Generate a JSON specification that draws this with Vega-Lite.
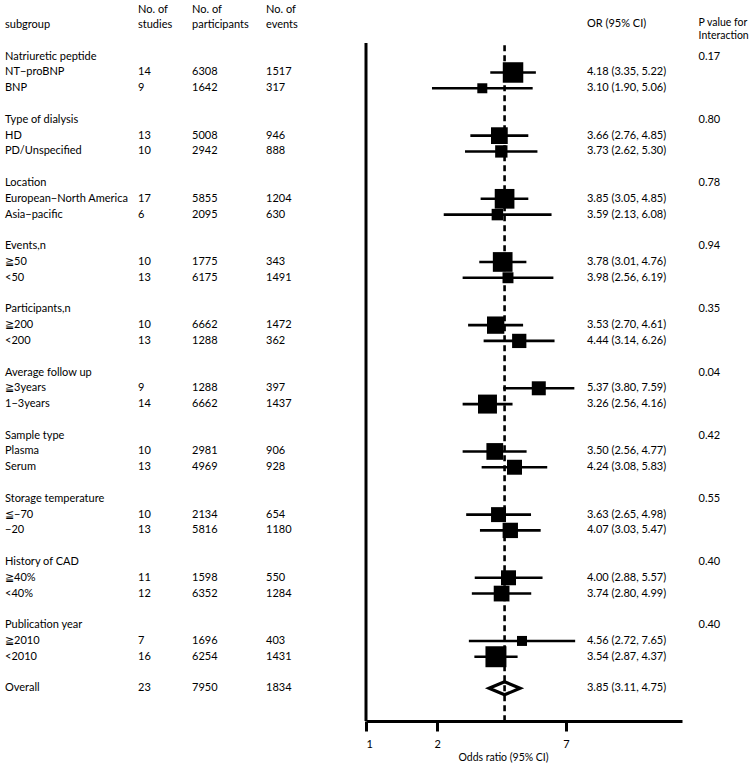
{
  "$schema": "https://vega.github.io/schema/vega-lite/v6.json",
  "padding": {"left": 5, "right": 0, "top": 0, "bottom": 0},
  "background": "white",
  "spacing": 0,
  "config": {
    "view": {"stroke": null},
    "text": {"font": "Lato", "fontSize": 11, "color": "black"},
    "concat": {"spacing": 0}
  },
  "datasets": {
    "rows": [
      {"k": 0, "label": "Natriuretic peptide", "p": "0.17"},
      {"k": 1, "label": "NT−proBNP", "studies": 14, "participants": 6308, "events": 1517, "or": 4.18, "lo": 3.35, "hi": 5.22, "ci": "4.18 (3.35, 5.22)", "weight": 105},
      {"k": 2, "label": "BNP", "studies": 9, "participants": 1642, "events": 317, "or": 3.10, "lo": 1.90, "hi": 5.06, "ci": "3.10 (1.90, 5.06)", "weight": 25},
      {"k": 4, "label": "Type of dialysis", "p": "0.80"},
      {"k": 5, "label": "HD", "studies": 13, "participants": 5008, "events": 946, "or": 3.66, "lo": 2.76, "hi": 4.85, "ci": "3.66 (2.76, 4.85)", "weight": 70},
      {"k": 6, "label": "PD/Unspecified", "studies": 10, "participants": 2942, "events": 888, "or": 3.73, "lo": 2.62, "hi": 5.30, "ci": "3.73 (2.62, 5.30)", "weight": 38},
      {"k": 8, "label": "Location", "p": "0.78"},
      {"k": 9, "label": "European−North America", "studies": 17, "participants": 5855, "events": 1204, "or": 3.85, "lo": 3.05, "hi": 4.85, "ci": "3.85 (3.05, 4.85)", "weight": 97},
      {"k": 10, "label": "Asia−pacific", "studies": 6, "participants": 2095, "events": 630, "or": 3.59, "lo": 2.13, "hi": 6.08, "ci": "3.59 (2.13, 6.08)", "weight": 33},
      {"k": 12, "label": "Events,n", "p": "0.94"},
      {"k": 13, "label": "≧50", "studies": 10, "participants": 1775, "events": 343, "or": 3.78, "lo": 3.01, "hi": 4.76, "ci": "3.78 (3.01, 4.76)", "weight": 97},
      {"k": 14, "label": "<50", "studies": 13, "participants": 6175, "events": 1491, "or": 3.98, "lo": 2.56, "hi": 6.19, "ci": "3.98 (2.56, 6.19)", "weight": 30},
      {"k": 16, "label": "Participants,n", "p": "0.35"},
      {"k": 17, "label": "≧200", "studies": 10, "participants": 6662, "events": 1472, "or": 3.53, "lo": 2.70, "hi": 4.61, "ci": "3.53 (2.70, 4.61)", "weight": 75},
      {"k": 18, "label": "<200", "studies": 13, "participants": 1288, "events": 362, "or": 4.44, "lo": 3.14, "hi": 6.26, "ci": "4.44 (3.14, 6.26)", "weight": 51},
      {"k": 20, "label": "Average follow up", "p": "0.04"},
      {"k": 21, "label": "≧3years", "studies": 9, "participants": 1288, "events": 397, "or": 5.37, "lo": 3.80, "hi": 7.59, "ci": "5.37 (3.80, 7.59)", "weight": 49},
      {"k": 22, "label": "1−3years", "studies": 14, "participants": 6662, "events": 1437, "or": 3.26, "lo": 2.56, "hi": 4.16, "ci": "3.26 (2.56, 4.16)", "weight": 90},
      {"k": 24, "label": "Sample type", "p": "0.42"},
      {"k": 25, "label": "Plasma", "studies": 10, "participants": 2981, "events": 906, "or": 3.50, "lo": 2.56, "hi": 4.77, "ci": "3.50 (2.56, 4.77)", "weight": 70},
      {"k": 26, "label": "Serum", "studies": 13, "participants": 4969, "events": 928, "or": 4.24, "lo": 3.08, "hi": 5.83, "ci": "4.24 (3.08, 5.83)", "weight": 56},
      {"k": 28, "label": "Storage temperature", "p": "0.55"},
      {"k": 29, "label": "≦−70", "studies": 10, "participants": 2134, "events": 654, "or": 3.63, "lo": 2.65, "hi": 4.98, "ci": "3.63 (2.65, 4.98)", "weight": 56},
      {"k": 30, "label": "−20", "studies": 13, "participants": 5816, "events": 1180, "or": 4.07, "lo": 3.03, "hi": 5.47, "ci": "4.07 (3.03, 5.47)", "weight": 59},
      {"k": 32, "label": "History of CAD", "p": "0.40"},
      {"k": 33, "label": "≧40%", "studies": 11, "participants": 1598, "events": 550, "or": 4.00, "lo": 2.88, "hi": 5.57, "ci": "4.00 (2.88, 5.57)", "weight": 56},
      {"k": 34, "label": "<40%", "studies": 12, "participants": 6352, "events": 1284, "or": 3.74, "lo": 2.80, "hi": 4.99, "ci": "3.74 (2.80, 4.99)", "weight": 62},
      {"k": 36, "label": "Publication year", "p": "0.40"},
      {"k": 37, "label": "≧2010", "studies": 7, "participants": 1696, "events": 403, "or": 4.56, "lo": 2.72, "hi": 7.65, "ci": "4.56 (2.72, 7.65)", "weight": 25},
      {"k": 38, "label": "<2010", "studies": 16, "participants": 6254, "events": 1431, "or": 3.54, "lo": 2.87, "hi": 4.37, "ci": "3.54 (2.87, 4.37)", "weight": 110},
      {"k": 40, "label": "Overall", "studies": 23, "participants": 7950, "events": 1834, "or": 3.85, "lo": 3.11, "hi": 4.75, "ci": "3.85 (3.11, 4.75)", "overall": true}
    ]
  },
  "hconcat": [
    {
      "width": 133, "height": 721,
      "layer": [
        {"data": {"name": "rows"},
         "mark": {"type": "text", "align": "left", "baseline": "middle"},
         "encoding": {
           "x": {"value": 0},
           "y": {"field": "k", "type": "quantitative", "scale": {"domain": [-3.59, 42.07], "reverse": true, "nice": false, "zero": false}, "axis": null},
           "text": {"field": "label"}}},
        {"data": {"values": [{"h": "subgroup"}]},
         "mark": {"type": "text", "align": "left", "baseline": "middle"},
         "encoding": {"x": {"value": 0}, "y": {"datum": -1.98, "type": "quantitative"}, "text": {"field": "h"}}}
      ]
    },
    {
      "width": 54, "height": 721,
      "layer": [
        {"data": {"name": "rows"},
         "transform": [{"filter": "isValid(datum.studies)"}],
         "mark": {"type": "text", "align": "left", "baseline": "middle"},
         "encoding": {
           "x": {"value": 0},
           "y": {"field": "k", "type": "quantitative", "scale": {"domain": [-3.59, 42.07], "reverse": true, "nice": false, "zero": false}, "axis": null},
           "text": {"field": "studies"}}},
        {"data": {"values": [{"h": "No. of"}]},
         "mark": {"type": "text", "align": "left", "baseline": "middle"},
         "encoding": {"x": {"value": 0}, "y": {"datum": -2.96, "type": "quantitative"}, "text": {"field": "h"}}},
        {"data": {"values": [{"h": "studies"}]},
         "mark": {"type": "text", "align": "left", "baseline": "middle"},
         "encoding": {"x": {"value": 0}, "y": {"datum": -1.98, "type": "quantitative"}, "text": {"field": "h"}}}
      ]
    },
    {
      "width": 74, "height": 721,
      "layer": [
        {"data": {"name": "rows"},
         "transform": [{"filter": "isValid(datum.participants)"}],
         "mark": {"type": "text", "align": "left", "baseline": "middle"},
         "encoding": {
           "x": {"value": 0},
           "y": {"field": "k", "type": "quantitative", "scale": {"domain": [-3.59, 42.07], "reverse": true, "nice": false, "zero": false}, "axis": null},
           "text": {"field": "participants"}}},
        {"data": {"values": [{"h": "No. of"}]},
         "mark": {"type": "text", "align": "left", "baseline": "middle"},
         "encoding": {"x": {"value": 0}, "y": {"datum": -2.96, "type": "quantitative"}, "text": {"field": "h"}}},
        {"data": {"values": [{"h": "participants"}]},
         "mark": {"type": "text", "align": "left", "baseline": "middle"},
         "encoding": {"x": {"value": 0}, "y": {"datum": -1.98, "type": "quantitative"}, "text": {"field": "h"}}}
      ]
    },
    {
      "width": 98, "height": 721,
      "layer": [
        {"data": {"name": "rows"},
         "transform": [{"filter": "isValid(datum.events)"}],
         "mark": {"type": "text", "align": "left", "baseline": "middle"},
         "encoding": {
           "x": {"value": 0},
           "y": {"field": "k", "type": "quantitative", "scale": {"domain": [-3.59, 42.07], "reverse": true, "nice": false, "zero": false}, "axis": null},
           "text": {"field": "events"}}},
        {"data": {"values": [{"h": "No. of"}]},
         "mark": {"type": "text", "align": "left", "baseline": "middle"},
         "encoding": {"x": {"value": 0}, "y": {"datum": -2.96, "type": "quantitative"}, "text": {"field": "h"}}},
        {"data": {"values": [{"h": "events"}]},
         "mark": {"type": "text", "align": "left", "baseline": "middle"},
         "encoding": {"x": {"value": 0}, "y": {"datum": -1.98, "type": "quantitative"}, "text": {"field": "h"}}}
      ]
    },
    {
      "width": 316, "height": 721,
      "layer": [
        {"data": {"values": [{}]},
         "mark": {"type": "rule", "strokeWidth": 3, "color": "black", "strokeCap": "butt"},
         "encoding": {
           "x": {"datum": 1, "type": "quantitative", "scale": {"type": "log", "domain": [1, 21.63], "nice": false},
                 "axis": {"values": [1, 2, 7], "format": "d", "grid": false, "domainWidth": 3, "domainColor": "black", "domainCap": "butt", "tickWidth": 3, "tickColor": "black", "tickSize": 10, "tickCap": "butt", "labelFont": "Lato", "labelFontSize": 11, "labelColor": "black", "labelPadding": 7, "title": "Odds ratio (95% CI)", "titleFont": "Lato", "titleFontSize": 10.5, "titleFontWeight": "normal", "titleColor": "black", "titlePadding": 3, "titleX": 137}},
           "y": {"datum": -0.87, "type": "quantitative", "scale": {"domain": [-3.59, 42.07], "reverse": true, "nice": false, "zero": false}, "axis": null},
           "y2": {"datum": 42.07}}},
        {"data": {"name": "rows"},
         "transform": [{"filter": "datum.overall === true"}],
         "mark": {"type": "rule", "strokeWidth": 2.6, "color": "black", "strokeDash": [6, 4], "strokeCap": "butt"},
         "encoding": {
           "x": {"field": "or", "type": "quantitative", "scale": {"type": "log", "domain": [1, 21.63], "nice": false},
                 "axis": {"values": [1, 2, 7], "format": "d", "grid": false, "domainWidth": 3, "domainColor": "black", "domainCap": "butt", "tickWidth": 3, "tickColor": "black", "tickSize": 10, "tickCap": "butt", "labelFont": "Lato", "labelFontSize": 11, "labelColor": "black", "labelPadding": 7, "title": "Odds ratio (95% CI)", "titleFont": "Lato", "titleFontSize": 10.5, "titleFontWeight": "normal", "titleColor": "black", "titlePadding": 3, "titleX": 137}},
           "y": {"datum": -0.72, "type": "quantitative"},
           "y2": {"datum": 42.07}}},
        {"data": {"name": "rows"},
         "transform": [{"filter": "isValid(datum.weight)"}],
         "mark": {"type": "rule", "strokeWidth": 2.6, "color": "black"},
         "encoding": {
           "x": {"field": "lo", "type": "quantitative", "scale": {"type": "log", "domain": [1, 21.63], "nice": false},
                 "axis": {"values": [1, 2, 7], "format": "d", "grid": false, "domainWidth": 3, "domainColor": "black", "domainCap": "butt", "tickWidth": 3, "tickColor": "black", "tickSize": 10, "tickCap": "butt", "labelFont": "Lato", "labelFontSize": 11, "labelColor": "black", "labelPadding": 7, "title": "Odds ratio (95% CI)", "titleFont": "Lato", "titleFontSize": 10.5, "titleFontWeight": "normal", "titleColor": "black", "titlePadding": 3, "titleX": 137}},
           "x2": {"field": "hi"},
           "y": {"field": "k", "type": "quantitative"}}},
        {"data": {"name": "rows"},
         "transform": [{"filter": "isValid(datum.weight)"}],
         "mark": {"type": "square", "filled": true, "color": "black", "opacity": 1},
         "encoding": {
           "x": {"field": "or", "type": "quantitative", "scale": {"type": "log", "domain": [1, 21.63], "nice": false},
                 "axis": {"values": [1, 2, 7], "format": "d", "grid": false, "domainWidth": 3, "domainColor": "black", "domainCap": "butt", "tickWidth": 3, "tickColor": "black", "tickSize": 10, "tickCap": "butt", "labelFont": "Lato", "labelFontSize": 11, "labelColor": "black", "labelPadding": 7, "title": "Odds ratio (95% CI)", "titleFont": "Lato", "titleFontSize": 10.5, "titleFontWeight": "normal", "titleColor": "black", "titlePadding": 3, "titleX": 137}},
           "y": {"field": "k", "type": "quantitative"},
           "size": {"field": "weight", "type": "quantitative", "scale": {"type": "linear", "domain": [0, 100], "range": [0, 400]}, "legend": null}}},
        {"data": {"name": "rows"},
         "transform": [{"filter": "datum.overall === true"}],
         "mark": {"type": "point", "shape": "M-1,0L0,-0.42L1,0L0,0.42Z", "filled": false, "stroke": "black", "strokeWidth": 3.2, "strokeJoin": "miter", "opacity": 1, "size": 961},
         "encoding": {
           "x": {"field": "or", "type": "quantitative", "scale": {"type": "log", "domain": [1, 21.63], "nice": false},
                 "axis": {"values": [1, 2, 7], "format": "d", "grid": false, "domainWidth": 3, "domainColor": "black", "domainCap": "butt", "tickWidth": 3, "tickColor": "black", "tickSize": 10, "tickCap": "butt", "labelFont": "Lato", "labelFontSize": 11, "labelColor": "black", "labelPadding": 7, "title": "Odds ratio (95% CI)", "titleFont": "Lato", "titleFontSize": 10.5, "titleFontWeight": "normal", "titleColor": "black", "titlePadding": 3, "titleX": 137}},
           "y": {"field": "k", "type": "quantitative"}}},
        {"data": {"name": "rows"},
         "transform": [{"filter": "isValid(datum.ci)"}],
         "mark": {"type": "text", "align": "left", "baseline": "middle"},
         "encoding": {
           "x": {"datum": 8.58, "type": "quantitative", "scale": {"type": "log", "domain": [1, 21.63], "nice": false},
                 "axis": {"values": [1, 2, 7], "format": "d", "grid": false, "domainWidth": 3, "domainColor": "black", "domainCap": "butt", "tickWidth": 3, "tickColor": "black", "tickSize": 10, "tickCap": "butt", "labelFont": "Lato", "labelFontSize": 11, "labelColor": "black", "labelPadding": 7, "title": "Odds ratio (95% CI)", "titleFont": "Lato", "titleFontSize": 10.5, "titleFontWeight": "normal", "titleColor": "black", "titlePadding": 3, "titleX": 137}},
           "y": {"field": "k", "type": "quantitative"},
           "text": {"field": "ci"}}},
        {"data": {"values": [{"h": "OR (95% CI)"}]},
         "mark": {"type": "text", "align": "left", "baseline": "middle"},
         "encoding": {
           "x": {"datum": 8.58, "type": "quantitative", "scale": {"type": "log", "domain": [1, 21.63], "nice": false},
                 "axis": {"values": [1, 2, 7], "format": "d", "grid": false, "domainWidth": 3, "domainColor": "black", "domainCap": "butt", "tickWidth": 3, "tickColor": "black", "tickSize": 10, "tickCap": "butt", "labelFont": "Lato", "labelFontSize": 11, "labelColor": "black", "labelPadding": 7, "title": "Odds ratio (95% CI)", "titleFont": "Lato", "titleFontSize": 10.5, "titleFontWeight": "normal", "titleColor": "black", "titlePadding": 3, "titleX": 137}},
           "y": {"datum": -2.04, "type": "quantitative"},
           "text": {"field": "h"}}},
        {"data": {"name": "rows"},
         "transform": [{"filter": "isValid(datum.p)"}],
         "mark": {"type": "text", "align": "left", "baseline": "middle"},
         "encoding": {
           "x": {"datum": 25.4, "type": "quantitative", "scale": {"type": "log", "domain": [1, 21.63], "nice": false},
                 "axis": {"values": [1, 2, 7], "format": "d", "grid": false, "domainWidth": 3, "domainColor": "black", "domainCap": "butt", "tickWidth": 3, "tickColor": "black", "tickSize": 10, "tickCap": "butt", "labelFont": "Lato", "labelFontSize": 11, "labelColor": "black", "labelPadding": 7, "title": "Odds ratio (95% CI)", "titleFont": "Lato", "titleFontSize": 10.5, "titleFontWeight": "normal", "titleColor": "black", "titlePadding": 3, "titleX": 137}},
           "y": {"field": "k", "type": "quantitative"},
           "text": {"field": "p"}}},
        {"data": {"values": [{"h": "P value for"}]},
         "mark": {"type": "text", "align": "left", "baseline": "middle", "fontSize": 10.5},
         "encoding": {
           "x": {"datum": 25.4, "type": "quantitative", "scale": {"type": "log", "domain": [1, 21.63], "nice": false},
                 "axis": {"values": [1, 2, 7], "format": "d", "grid": false, "domainWidth": 3, "domainColor": "black", "domainCap": "butt", "tickWidth": 3, "tickColor": "black", "tickSize": 10, "tickCap": "butt", "labelFont": "Lato", "labelFontSize": 11, "labelColor": "black", "labelPadding": 7, "title": "Odds ratio (95% CI)", "titleFont": "Lato", "titleFontSize": 10.5, "titleFontWeight": "normal", "titleColor": "black", "titlePadding": 3, "titleX": 137}},
           "y": {"datum": -2.14, "type": "quantitative"},
           "text": {"field": "h"}}},
        {"data": {"values": [{"h": "Interaction"}]},
         "mark": {"type": "text", "align": "left", "baseline": "middle", "fontSize": 10.5},
         "encoding": {
           "x": {"datum": 25.4, "type": "quantitative", "scale": {"type": "log", "domain": [1, 21.63], "nice": false},
                 "axis": {"values": [1, 2, 7], "format": "d", "grid": false, "domainWidth": 3, "domainColor": "black", "domainCap": "butt", "tickWidth": 3, "tickColor": "black", "tickSize": 10, "tickCap": "butt", "labelFont": "Lato", "labelFontSize": 11, "labelColor": "black", "labelPadding": 7, "title": "Odds ratio (95% CI)", "titleFont": "Lato", "titleFontSize": 10.5, "titleFontWeight": "normal", "titleColor": "black", "titlePadding": 3, "titleX": 137}},
           "y": {"datum": -1.3, "type": "quantitative"},
           "text": {"field": "h"}}}
      ]
    }
  ]
}
